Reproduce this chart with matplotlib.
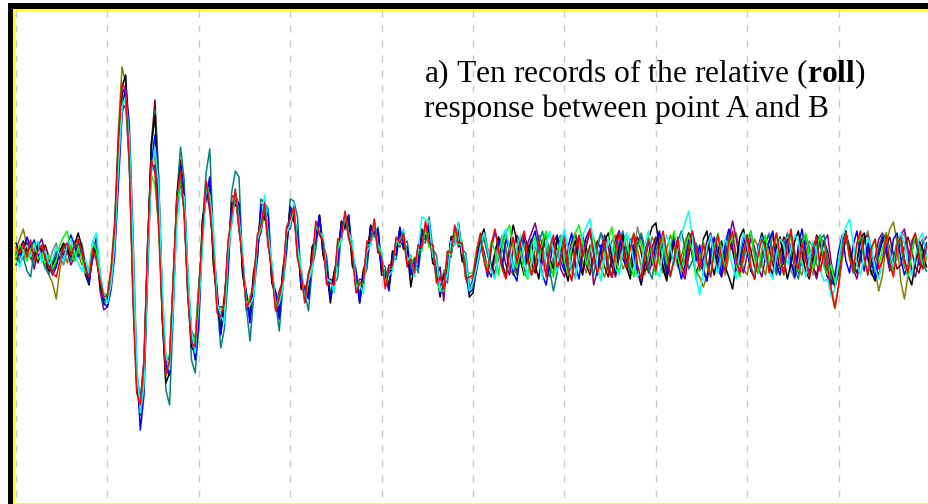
import numpy as np
import matplotlib
matplotlib.use("Agg")
import matplotlib.pyplot as plt
from matplotlib.patches import Rectangle

# sampling step of the records (s)
dt = 0.04

# ten roll records, relative response A-B (arbitrary units)
roll_red = [
    8, 2, 12, -2, 15, -5, 4, 10, -3, -12, -18, -22, -6, 8, 12, 0, 10, 16, 4, -14, -22, 6, -6, -25, -42,
    -40, -15, 28, 115, 172, 165, 92, -48, -138, -150, -108, 12, 95, 82, 28, -62, -120, -105, -22, 58, 84, 40, -42, -88, -92,
    -36, 24, 74, 50, 2, -58, -62, -48, 14, 40, 66, 28, -8, -52, -46, -28, 20, 30, 52, 10, -18, -56, -42, -24, 28,
    36, 48, -4, -20, -48, -18, -6, 34, 22, 14, -30, -28, -30, 16, 18, 44, 18, 2, -38, -28, -28, 14, 14, 36, 4,
    -2, -34, -14, -10, 18, 12, 22, -10, -4, -18, 10, 8, 34, 12, 10, -28, -22, -34, 4, 2, 30, 12, 12, -24, -22,
    -20, 4, 22, -6, -18, 10, 26, 4, -14, -24, 2, 18, -8, 12, 24, -4, -20, -10, 14, 2, -22, 8, 20, -12, -4,
    16, -14, -26, 6, 20, -2, 12, 26, 0, -18, -8, 14, -16, -22, 4, 22, 10, -12, 6, 20, -10, -24, -2, 16, 4,
    -16, 10, 24, 2, -20, -6, 18, -10, -20, 8, 24, 6, -14, 12, -8, -22, 4, 20, -4, -16, 14, 24, -6, -18, 2,
    20, -12, -24, 0, 16, 8, -18, 6, 22, -2, -20, 10, 26, -8, -14, 12, -6, -22, 8, 18, -16, 4, -14, -34, -52,
    -30, 4, 22, -4, -16, 12, 24, -2, -20, 8, 16, -14, -6, 20, -8, -22, 10, 18, -6, -18, 14, 22, -4, -14, 8,
]
roll_blue = [
    12, 0, 5, 18, 8, 15, -2, 6, 0, -8, -20, -12, 2, -5, 8, 20, 10, -2, 6, -10, -28, 2, 18, -20, -48,
    -52, -35, 0, 70, 140, 170, 130, 20, -110, -175, -140, -20, 90, 120, 65, -40, -110, -118, -50, 40, 88, 60, -20, -80, -105,
    -66, 22, 60, 78, 8, -34, -80, -50, -14, 50, 54, 52, -14, -38, -68, -26, -4, 50, 50, 38, -26, -36, -64, -20, 6,
    48, 38, 22, -30, -34, -44, 0, 14, 40, 6, -10, -44, -22, -8, 32, 30, 40, -4, -18, -48, -20, -8, 28, 22, 26,
    -16, -18, -36, 0, 2, 28, 8, 8, -20, -8, -12, 22, 16, 30, -2, -8, -38, -22, -18, 16, 12, 32, 0, -4, -38,
    -34, -10, 12, -4, -22, 6, 24, 10, -12, 16, 4, -18, -26, 2, 20, -6, 14, 24, -2, -20, -30, -8, 12, 20, -6,
    -16, 8, 22, -10, -24, 4, 18, 26, 2, -20, 10, 6, -16, -22, 8, 24, -4, -12, 16, 2, -18, -26, 6, 14, -10,
    12, 24, 0, -18, 6, 20, -8, -24, -10, 16, 22, -6, 10, -14, -26, 4, 18, -2, -20, 12, 26, 8, -16, -4, 18,
    6, -14, -24, 8, 20, -6, 14, 24, -10, -20, 4, 16, -8, -22, 10, 26, 2, -18, -6, 14, 20, -8, -22, -30, -20,
    4, 20, -6, -18, 10, 24, 0, -16, 12, -6, -24, 2, 18, 8, -12, 16, 22, -4, -20, -8, 12, 18, -10, -4, 10,
]
roll_lime = [
    -2, 10, 4, -6, 6, 12, -4, 2, -8, 0, -14, -6, 10, 18, 24, 4, -6, 8, -4, -18, -12, 14, 4, -22, -38,
    -40, -20, 20, 95, 150, 158, 95, -30, -120, -150, -112, 0, 80, 70, 30, -50, -105, -100, -25, 50, 76, 46, -30, -78, -86,
    -32, 14, 72, 60, 18, -52, -54, -54, 8, 34, 64, 28, -2, -50, -42, -33, 16, 26, 52, 14, -10, -52, -40, -30, 24,
    30, 48, 2, -16, -46, -22, -12, 30, 22, 18, -26, -26, -34, 10, 16, 42, 20, 8, -34, -26, -30, 10, 10, 34, 6,
    2, -30, -14, -14, 16, 10, 24, -6, 0, -20, 6, 4, 28, 8, 8, -26, -36, -36, 2, 0, 24, 10, 14, -20, -18,
    -18, 6, 20, -2, -14, 14, 4, -20, 8, 22, 30, 6, -12, 4, -18, -24, 10, 18, -4, 12, 24, -8, -22, 2, 16,
    -6, -20, 8, 22, 30, 12, -10, 4, 18, -14, -24, 2, 16, 28, -4, -18, 6, 20, -10, -22, 8, 14, -6, 20, -4,
    -20, 4, 18, -8, 10, 24, -2, -16, 6, 20, 2, -24, -8, 14, -12, -20, 8, 22, 4, -14, 10, 18, -10, -22, 2,
    16, 24, -4, -18, 6, 20, -10, 4, 22, -8, -20, 10, 18, -6, -16, 12, 22, 0, -14, 8, 20, -12, -20, -10, -28,
    -12, 8, 22, -2, -16, 10, 20, -6, -20, 4, 16, -10, 6, 22, -4, -18, 12, 18, -8, -22, 2, 20, 10, -12, -2,
]
roll_black = [
    0, 6, 14, 4, 10, -4, 12, 2, -6, -16, -10, -2, 4, 12, 6, -2, 10, 22, 8, -20, -30, 8, 2, -30, -44,
    -46, -22, 24, 108, 168, 180, 110, -35, -130, -160, -118, 8, 110, 140, 60, -65, -128, -118, -30, 60, 88, 50, -40, -92, -98,
    -53, 36, 56, 66, -10, -42, -78, -44, -6, 52, 50, 46, -20, -42, -64, -18, 2, 44, 36, 28, -28, -40, -62, -16, 10,
    48, 36, 16, -34, -36, -40, 8, 16, 40, 0, -16, -48, -18, -4, 34, 28, 36, -10, -20, -48, -18, -4, 30, 22, 22,
    -20, -20, -32, 4, 0, 26, 6, 6, -32, -8, -6, 26, 18, 26, -8, -14, -42, -20, -14, 18, 20, 28, -6, -10, -42,
    -38, -12, 16, 26, 6, -14, 2, 18, -8, -22, 8, 30, 14, -6, -20, 4, 16, -10, -24, 6, 22, -4, -14, 18, 10,
    -12, -26, 2, 14, -8, -20, 10, 24, 4, -16, -6, 14, 22, -4, -18, 8, 20, -12, -24, 6, -16, -30, -10, 16, 28,
    32, 8, -14, -26, 0, 18, 8, -12, 6, 22, -2, -18, -8, 16, 24, -6, -20, 4, 14, -12, -22, -34, -8, 18, 26,
    4, -16, -22, 6, 22, 10, -10, -20, 8, 18, -4, -24, -8, 14, 24, 0, -16, -24, 2, 20, 12, -10, -22, -26, -30,
    -10, 12, 24, 4, -14, -6, 16, 22, -2, -18, -26, 0, 14, 22, 4, -14, 10, 20, -4, -20, -30, -8, 14, 6, -12,
]
roll_cyan = [
    -6, -12, 4, 10, -2, 8, 14, -8, 4, -10, -4, 8, 0, -6, 10, 16, 2, -8, -16, -4, -20, 14, 22, -16, -40,
    -48, -30, 10, 88, 148, 158, 118, 10, -108, -158, -130, -10, 80, 108, 70, -30, -100, -115, -52, 30, 66, 58, -14, -76, -98,
    -50, 4, 68, 58, 26, -48, -60, -68, 2, 32, 66, 36, 4, -52, -50, -42, 14, 32, 60, 20, -8, -54, -48, -34, 22,
    30, 52, 8, -12, -48, -26, -14, 30, 22, 20, -24, -26, -38, 6, 14, 42, 22, 14, -32, -30, -38, 4, 10, 36, 10,
    4, -32, -20, -16, 16, 10, 26, -6, -2, -22, 4, 38, 36, 34, -2, -6, -36, -26, -20, 14, 10, 32, 2, -2, -36,
    -28, -12, 8, 22, 6, -16, -24, 2, 18, 26, 4, -14, 8, 20, -6, -22, -8, 14, -4, -24, 10, 24, 2, -16, 12,
    26, 6, -18, -24, 4, 20, 28, 36, 12, -12, -26, -4, 16, 8, -14, -20, 6, 22, 14, -8, -22, -12, 10, 24, 2,
    -14, -22, 6, 20, 8, -10, 4, 20, 32, 44, 18, -22, -40, -16, 8, 20, -4, -18, 2, 16, 6, -12, -24, 4, 22,
    10, -12, -20, 6, 18, -4, -16, -24, 2, 16, 10, -10, 6, 20, 14, -8, -22, -6, 14, 4, -16, -26, -24, -42, -34,
    -6, 18, 28, 36, 12, -10, -20, 2, 18, 6, -14, -24, -2, 16, 4, -12, 8, 22, 12, -10, -20, -2, 16, 22, 0,
]
roll_teal = [
    4, -8, -2, -16, -22, 6, 10, -4, -12, -20, -8, 4, -2, 6, 12, -6, 4, 14, 0, -18, -24, 4, 10, -30, -50,
    -42, -18, 30, 105, 155, 160, 100, -25, -125, -155, -125, 0, 105, 145, 75, -55, -135, -150, -60, 60, 108, 75, -30, -105, -118,
    -73, 33, 82, 106, 17, -47, -93, -74, -23, 63, 84, 78, -13, -52, -86, -42, -3, 56, 52, 46, -20, -47, -76, -32, 2,
    56, 54, 38, -26, -37, -56, -14, 6, 38, 12, -2, -42, -30, -22, 24, 26, 40, 0, -14, -44, -24, -14, 26, 18, 28,
    -8, -12, -34, -4, -4, 24, 10, 14, -14, -6, -18, 14, 12, 38, 6, 0, -32, -24, -28, 10, 10, 32, 6, 2, -30,
    -30, -16, 4, 20, 2, -14, -22, 0, 14, 22, 6, -10, -20, 6, 18, -6, -20, -8, 12, 24, 4, -16, -36, -18, 8,
    20, 6, -14, -22, 4, 18, 8, -10, -20, 6, 22, 14, -8, -22, -4, 12, 24, 4, -18, -10, 10, 22, 8, -14, -24,
    2, 18, 10, -12, -22, -2, 14, 24, 6, -14, -6, 12, 2, -18, -26, -4, 16, 8, -12, 6, 22, 12, -8, -20, -2,
    14, 24, 2, -18, -8, 12, 20, 0, -20, -10, 10, 22, 6, -14, -24, -2, 18, 8, -12, -4, 16, 20, -6, -24, -30,
    -12, 10, 20, 2, -18, -8, 12, 18, -4, -20, -10, 8, 20, 6, -14, -4, 14, 10, -12, -20, 2, 18, 12, -8, -16,
]
roll_purple = [
    -10, 4, -4, 6, 0, -14, 8, 16, 4, -10, -6, 2, -4, 10, 4, -10, -2, 12, 6, -16, -24, -4, 8, -36, -55,
    -52, -28, 18, 92, 145, 150, 90, -30, -118, -145, -105, 5, 85, 90, 40, -50, -108, -102, -28, 48, 72, 44, -30, -76, -84,
    -30, 16, 66, 44, 8, -52, -52, -52, 10, 32, 60, 24, -2, -56, -42, -32, 14, 22, 46, 8, -12, -50, -36, -26, 24,
    26, 44, -2, -14, -42, -18, -10, 28, 20, 14, -28, -24, -28, 12, 14, 40, 16, 6, -34, -24, -26, 12, 10, 32, 2,
    0, -28, -10, -10, 16, 8, 18, -12, -2, -16, 10, 6, 28, 8, 10, -22, -12, -46, 0, -2, 22, 8, 10, -22, -36,
    -26, 0, 16, 4, -14, -22, 2, 18, 8, -10, -20, 6, 20, 10, -8, 12, 22, 32, 14, -8, -18, 2, 16, 6, -14,
    -22, -4, 14, 22, 2, -16, -6, 10, -30, -16, 6, 20, 8, -12, -22, -2, 16, 6, -14, -8, 12, 20, 0, -18, -8,
    10, 20, 2, -16, -6, 12, 4, -16, -24, 0, 18, 8, -12, -4, 14, 22, 6, -14, -22, -2, 16, 34, 16, -8, -18,
    0, 16, 8, -12, -22, -2, 14, 22, 2, -14, -8, 12, 20, 0, -18, -6, 14, 6, -12, -24, -2, 14, 20, -8, -24,
    -10, 6, 18, 2, -14, -24, -4, 14, 8, -12, -2, 16, 22, 2, -16, -10, 8, 20, 26, 6, -14, -22, -4, 12, 18,
]
roll_olive = [
    6, 16, 26, 8, -4, 4, -6, 10, -4, -20, -28, -44, -14, 4, -8, 6, 14, 2, -10, -6, -22, 10, -2, -28, -46,
    -40, -12, 35, 125, 188, 172, 90, -40, -130, -152, -110, 10, 98, 100, 40, -58, -118, -108, -26, 56, 82, 44, -38, -86, -90,
    -48, 34, 60, 68, -10, -40, -74, -40, -4, 54, 50, 44, -20, -38, -60, -16, 2, 48, 40, 28, -28, -38, -58, -12, 12,
    48, 34, 16, -34, -30, -36, 8, 16, 38, 0, -14, -42, -16, -2, 32, 26, 34, -12, -20, -42, -14, -2, 28, 20, 22,
    -16, -16, -30, 4, 2, 26, 6, 6, -18, -2, -6, 22, 14, 26, -8, -10, -36, -16, -12, 18, 12, 26, -4, -6, -36,
    -22, -6, 12, 20, 2, -14, -20, 0, 16, 8, -12, -20, 4, 18, 8, -8, -18, 6, 20, 10, -12, -22, -2, 14, 6,
    -12, -20, 0, 20, 10, -8, -18, 4, 16, 6, -14, -22, -4, 14, 20, 2, -14, -6, 12, 22, 6, -12, -20, 0, 18,
    10, -8, -18, 6, 20, 8, -12, -2, 14, 22, 2, -16, -22, -32, -20, 4, 16, 8, -10, -20, 0, 16, 22, 2, -14,
    -20, 0, 16, 8, -10, -20, 4, 18, 10, -8, -14, 6, 20, 4, -14, -20, 0, 14, 8, -10, -16, 2, -22, -38, -54,
    -32, -4, 16, 6, -10, -18, 0, 16, 10, -8, -16, -36, -20, 10, 26, 33, 12, -26, -44, -20, 8, 18, 2, -14, -4,
]
roll_gray = [
    2, -4, 8, 14, 2, -8, 6, 0, -14, -8, 4, 12, -2, -10, 4, 10, -4, 2, 12, -8, -18, 6, -4, -26, -42,
    -44, -22, 22, 100, 158, 162, 98, -35, -125, -148, -110, 5, 92, 100, 45, -55, -115, -108, -28, 52, 80, 46, -34, -82, -90,
    -34, 18, 70, 52, 6, -54, -58, -52, 10, 38, 62, 30, -4, -52, -46, -30, 16, 30, 50, 14, -12, -52, -44, -26, 26,
    32, 46, 0, -18, -44, -22, -8, 28, 22, 14, -26, -28, -30, 10, 18, 38, 20, 4, -32, -28, -28, 10, 14, 32, 6,
    -2, -30, -16, -10, 14, 12, 20, -8, -4, -16, 8, 8, 28, 12, 8, -24, -22, -30, 0, 2, 24, 12, 10, -20, -22,
    -24, -10, 8, 16, 0, -16, -8, 10, 20, 2, -14, -20, -2, 14, 22, 4, -10, -18, 2, 16, 8, -10, -4, 14, 20,
    2, -16, -24, -4, 12, 20, 0, -16, -8, 12, 22, 4, -14, -22, -2, 14, 8, -10, -18, 4, 28, 12, -8, -16, 0,
    16, 8, -10, -22, -2, 14, 6, -14, -4, 16, 24, 2, -16, -10, 8, 20, 2, -14, -22, -4, 14, 20, 0, -16, -6,
    10, 20, 2, -16, -6, 14, 22, 4, -14, -4, 12, 2, -16, -24, -2, 16, 10, -8, -20, 0, 18, 12, -8, -22, -32,
    -14, 6, 20, 10, -8, -18, 0, 16, 24, 4, -12, -22, -2, 14, 8, -10, -4, 16, 22, 0, -18, -6, 10, 16, 2,
]
roll_maroon = [
    -4, 8, 2, 12, 6, 2, -8, 4, 10, -2, -16, -8, 6, 0, 10, 4, -6, 14, 2, -12, -26, 0, 6, -24, -44,
    -46, -24, 20, 100, 160, 170, 108, -20, -118, -155, -125, -10, 110, 155, 80, -40, -115, -120, -40, 50, 95, 62, -20, -80, -96,
    -58, 28, 64, 72, -2, -38, -78, -44, -8, 58, 60, 50, -16, -38, -64, -22, -2, 46, 40, 32, -26, -38, -60, -16, 8,
    48, 36, 20, -32, -32, -38, 4, 14, 38, 2, -12, -44, -18, -6, 32, 26, 36, -6, -18, -44, -16, -6, 28, 20, 24,
    -14, -16, -32, 2, 0, 26, 8, 8, -18, -4, -8, 22, 16, 28, -4, -8, -36, -20, -16, 16, 12, 30, -2, -6, -36,
    -28, -12, 8, 18, 4, -10, -18, -2, 14, 22, 4, -10, -16, 2, 18, 10, -8, -18, -2, 14, 6, -12, -20, 0, 16,
    10, -8, -16, 2, 18, 8, -10, -20, 0, 14, 6, -12, -22, -2, 16, 24, 4, -14, -8, 10, 18, 2, -16, -10, 8,
    18, 2, -12, -22, -2, 14, 8, -10, -18, 0, 16, 10, -8, -16, 2, 18, 6, -10, -18, 2, 14, 4, -12, -8, 10,
    20, 4, -12, -18, 0, 14, 8, -10, -18, 2, 18, 10, -8, -16, 2, 16, 20, 2, -12, -20, -2, 14, 4, -18, -32,
    -18, 2, 16, 8, -10, -18, 0, 16, 20, 2, -12, -20, -4, 10, 18, 0, -14, -10, 8, 18, 4, -12, -18, 0, 12,
]

# drawing order (last one ends up on top)
records = [
    (roll_gray, '#808080'),
    (roll_olive, '#808000'),
    (roll_purple, '#800080'),
    (roll_maroon, '#800000'),
    (roll_teal, '#008080'),
    (roll_black, '#000000'),
    (roll_blue, '#0000ff'),
    (roll_lime, '#00ff00'),
    (roll_cyan, '#00ffff'),
    (roll_red, '#ff0000'),
]

grid_times = list(range(10))

plt.rcParams['mathtext.fontset'] = 'custom'
plt.rcParams['mathtext.rm'] = 'Liberation Serif'
plt.rcParams['mathtext.bf'] = 'Liberation Serif:bold'

W, H = 929, 504
fig = plt.figure(figsize=(W / 100, H / 100), dpi=100)

# plotting area (pixel box converted to figure fractions)
ax_l, ax_t, ax_r, ax_b = 14, 9.5, 929, 503.5
ax = fig.add_axes([ax_l / W, 1 - ax_b / H, (ax_r - ax_l) / W, (ax_b - ax_t) / H])

y_lo, y_hi = -248.5, 245.5
ax.vlines(grid_times, y_hi, y_lo, colors='#c8c8c8', linewidth=1.0,
          linestyles=(0, (5, 5.8)), zorder=1)

for vals, col in records:
    t = np.arange(len(vals)) * dt
    ax.plot(t, vals, color=col, linewidth=1.1, zorder=2)

ax.set_xlim(-0.022, 9.989)
ax.set_ylim(y_lo, y_hi)
ax.set_xticks([])
ax.set_yticks([])
for side in ['top', 'left', 'bottom']:
    ax.spines[side].set_color('#ffff00')
    ax.spines[side].set_linewidth(1.4)
ax.spines['right'].set_visible(False)

# black frame bars on top and left
fig.add_artist(Rectangle((8 / W, 1 - 8.5 / H), (W - 8) / W, 5.5 / H,
                         transform=fig.transFigure, facecolor='black', edgecolor='none'))
fig.add_artist(Rectangle((8 / W, 0), 5.5 / W, 1 - 3 / H,
                         transform=fig.transFigure, facecolor='black', edgecolor='none'))

fig.text(424 / W, 1 - 82.7 / H, r"a) Ten records of the relative ($\mathbf{roll}$)",
         fontsize=22.7, family='Liberation Serif', va='baseline', ha='left')
fig.text(424 / W, 1 - 116.7 / H, "response between point A and B",
         fontsize=22.7, family='Liberation Serif', va='baseline', ha='left')

fig.savefig('out.png', dpi=100)
